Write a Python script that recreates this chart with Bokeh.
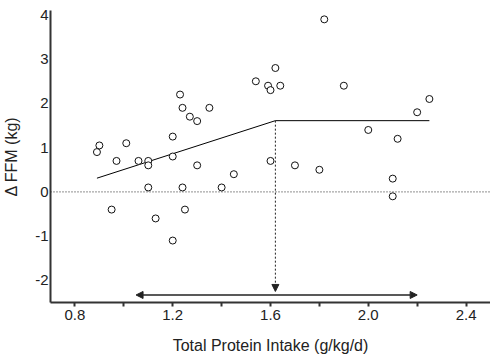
from bokeh.plotting import figure
from bokeh.models import Range1d, Span, Arrow, NormalHead, ColumnDataSource, FixedTicker
from bokeh.embed import file_html
from bokeh.resources import INLINE

# Data
protein = [0.89, 0.90, 0.97, 1.01, 1.06, 1.10, 1.10, 1.10, 1.20, 1.20, 1.23, 1.24, 1.24,
           1.27, 1.30, 1.30, 1.35, 1.40, 1.45, 1.82, 1.62, 1.54, 1.59, 1.60, 1.64, 1.90,
           2.25, 2.20, 2.00, 2.12, 1.60, 1.70, 1.80, 2.10, 2.10, 0.95, 1.25, 1.13, 1.20]
dffm = [0.90, 1.05, 0.70, 1.10, 0.70, 0.70, 0.60, 0.10, 1.25, 0.80, 2.20, 1.90, 0.10,
        1.70, 1.60, 0.60, 1.90, 0.10, 0.40, 3.90, 2.80, 2.50, 2.40, 2.30, 2.40, 2.40,
        2.10, 1.80, 1.40, 1.20, 0.70, 0.60, 0.50, 0.30, -0.10, -0.40, -0.40, -0.60, -1.10]

# Segmented regression line
fit_x = [0.89, 1.62, 2.25]
fit_y = [0.31, 1.61, 1.61]

# Breakpoint arrow and range arrow
breakpoint_x = 1.62
breakpoint_y = 1.61
arrow_tip_y = -2.25
range_x = [1.05, 2.20]
range_y = -2.33

x_ticks = [0.8, 1.2, 1.6, 2.0, 2.4]
x_tick_labels = ["0.8", "1.2", "1.6", "2.0", "2.4"]
x_minor = [1.0, 1.4, 1.8, 2.2]
y_ticks = [-2, -1, 0, 1, 2, 3, 4]
y_tick_labels = ["-2", "-1", "0", "1", "2", "3", "4"]

FONT = "Liberation Sans"

p = figure(width=490, height=364, output_backend="svg", toolbar_location=None,
           x_range=Range1d(0.7, 2.5), y_range=Range1d(-2.5, 4.1),
           min_border_left=48, min_border_right=0, min_border_top=10, min_border_bottom=62)
p.outline_line_color = None
p.grid.visible = False
p.background_fill_color = "white"

p.xaxis.ticker = FixedTicker(ticks=x_ticks, minor_ticks=x_minor)
p.yaxis.ticker = FixedTicker(ticks=y_ticks)
p.xaxis.major_label_overrides = dict(zip(x_ticks, x_tick_labels))
p.yaxis.major_label_overrides = dict(zip(y_ticks, y_tick_labels))

for ax in (p.xaxis[0], p.yaxis[0]):
    ax.axis_line_color = "#333333"
    ax.axis_line_width = 2
    ax.major_label_text_font = FONT
    ax.major_label_text_font_size = "15px"
    ax.major_label_text_color = "#222222"
    ax.axis_label_text_font = FONT
    ax.axis_label_text_font_size = "16px"
    ax.axis_label_text_font_style = "normal"
    ax.axis_label_text_color = "#222222"

p.xaxis.axis_label = "Total Protein Intake (g/kg/d)"
p.xaxis.major_tick_out = 4
p.xaxis.major_tick_in = 0
p.xaxis.minor_tick_out = 4
p.xaxis.minor_tick_in = 0
p.xaxis.major_tick_line_color = "#333333"
p.xaxis.minor_tick_line_color = "#333333"
p.xaxis.major_tick_line_width = 2
p.xaxis.minor_tick_line_width = 2
p.xaxis.major_label_standoff = 3
p.xaxis.axis_label_standoff = 14

p.yaxis.axis_label = "Δ FFM (kg)"
p.yaxis.major_tick_out = 0
p.yaxis.major_tick_in = 0
p.yaxis.minor_tick_line_color = None
p.yaxis.major_label_standoff = 2
p.yaxis.axis_label_standoff = 12

# zero reference line
p.add_layout(Span(location=0, dimension="width", line_color="#222222",
                  line_dash="1 2", line_width=1))

# fitted segmented line
p.line(fit_x, fit_y, line_color="black", line_width=1)

# breakpoint dashed arrow
p.add_layout(Arrow(end=NormalHead(size=7, fill_color="#222222", line_color="#222222"),
                   x_start=breakpoint_x, y_start=breakpoint_y,
                   x_end=breakpoint_x, y_end=arrow_tip_y,
                   line_color="#222222", line_width=1, line_dash="2 2"))

# range double arrow
p.add_layout(Arrow(start=NormalHead(size=7, fill_color="#222222", line_color="#222222"),
                   end=NormalHead(size=7, fill_color="#222222", line_color="#222222"),
                   x_start=range_x[0], y_start=range_y,
                   x_end=range_x[1], y_end=range_y,
                   line_color="#222222", line_width=1.5))

src = ColumnDataSource(dict(x=protein, y=dffm))
p.scatter("x", "y", source=src, size=7, fill_color="white", line_color="#111111",
          line_width=1)

open("out.html", "w").write(file_html(p, INLINE))
